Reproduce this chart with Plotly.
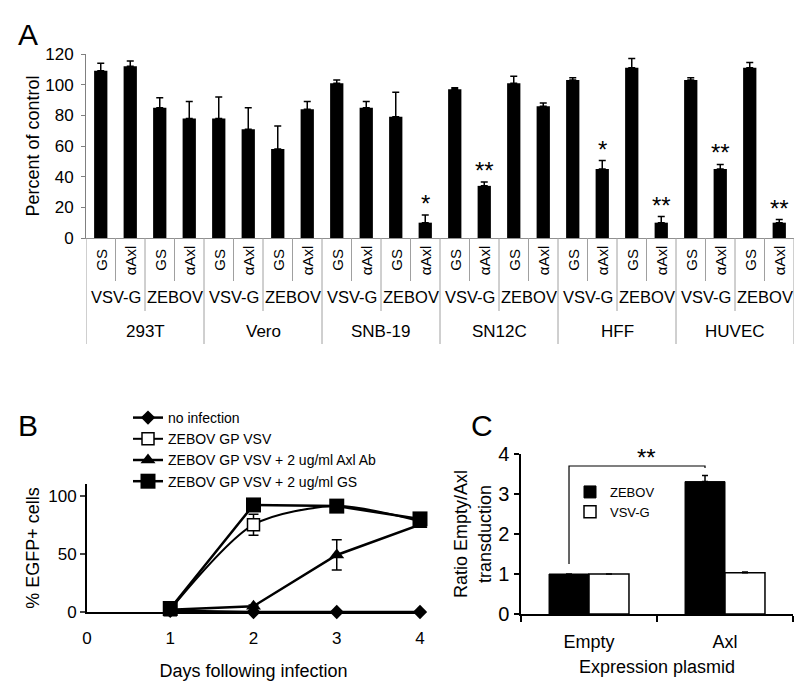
import plotly.graph_objects as go

FONT = "Liberation Sans, Arial, sans-serif"

# ---------------- Panel A data ----------------
cell_lines = ["293T", "Vero", "SNB-19", "SN12C", "HFF", "HUVEC"]
pseudotypes = ["VSV-G", "ZEBOV"]
treatments = ["GS", "αAxl"]
a_values = [109, 112, 85, 78,
            78, 71, 58, 84,
            101, 85, 79, 10,
            97, 34, 101, 86,
            103, 45, 111, 10,
            103, 45, 111, 10]
a_errors = [5, 3.5, 6.5, 11,
            14, 14, 15, 5,
            2, 4, 16, 5,
            1, 2.5, 4.5, 2,
            1.5, 5.5, 6, 4,
            1.5, 3, 3.5, 2]
a_signif = ["", "", "", "",
            "", "", "", "",
            "", "", "", "*",
            "", "**", "", "",
            "", "*", "", "**",
            "", "**", "", "**"]

# ---------------- Panel B data ----------------
days = [1, 2, 3, 4]
b_no_infection = [1, 0, 0, 0]
b_zebov = [2, 75, 91, 78]
b_zebov_err = [0, 9, 0, 0]
b_axl_ab = [2, 5, 49, 75]
b_axl_ab_err = [0, 1, 13, 2]
b_gs = [3, 92, 91, 80]
b_gs_err = [0, 1, 1, 1]
b_names = ["no infection", "ZEBOV GP VSV", "ZEBOV GP VSV + 2 ug/ml Axl Ab", "ZEBOV GP VSV + 2 ug/ml GS"]

# ---------------- Panel C data ----------------
plasmids = ["Empty", "Axl"]
c_zebov = [1.0, 3.31]
c_zebov_err = [0, 0.15]
c_vsvg = [1.0, 1.03]
c_vsvg_err = [0, 0.02]


def py(pix):
    return 1 - pix / 685.0


def px(pix):
    return pix / 800.0


fig = go.Figure()

# ---------------- Panel A ----------------
a_x = list(range(len(a_values)))
fig.add_trace(go.Bar(
    x=a_x, y=a_values, width=0.45, marker=dict(color="black", line=dict(width=0)),
    error_y=dict(type="data", array=a_errors, arrayminus=[0] * len(a_errors), symmetric=False,
                 color="black", thickness=1.5, width=3.5),
    xaxis="x", yaxis="y", showlegend=False, hoverinfo="skip"))

annotations = []
shapes = []

# significance stars
for i, s in enumerate(a_signif):
    if s:
        annotations.append(dict(x=i, y=a_values[i] + a_errors[i], xref="x", yref="y", text=s,
                                showarrow=False, yanchor="bottom", yshift=-4,
                                font=dict(size=24, family=FONT, color="black")))

# multi-level category labels
y_axis0 = py(238)
y_row1, y_row2, y_row3 = py(281), py(311), py(344)
n = len(a_values)
for b in range(n + 1):
    xb = b - 0.5
    if b % 4 == 0:
        y1 = y_row3
    elif b % 2 == 0:
        y1 = y_row2
    else:
        y1 = y_row1
    shapes.append(dict(type="line", xref="x", yref="paper", x0=xb, x1=xb, y0=y_axis0, y1=y1,
                       line=dict(color="#a0a0a0", width=1)))
for i in a_x:
    annotations.append(dict(x=i, y=py(260), xref="x", yref="paper", text=treatments[i % 2],
                            textangle=-90, showarrow=False,
                            font=dict(size=15, family=FONT, color="black")))
for k, cl in enumerate(cell_lines):
    for j, pt in enumerate(pseudotypes):
        annotations.append(dict(x=4 * k + 2 * j + 0.5, y=py(297), xref="x", yref="paper", text=pt,
                                showarrow=False, font=dict(size=16.5, family=FONT, color="black")))
    annotations.append(dict(x=4 * k + 1.5, y=py(332), xref="x", yref="paper", text=cl,
                            showarrow=False, font=dict(size=17, family=FONT, color="black")))

# ---------------- Panel B ----------------
fig.add_trace(go.Scatter(
    x=days, y=b_no_infection, name=b_names[0], mode="lines+markers",
    line=dict(color="black", width=2.5), marker=dict(symbol="diamond", size=11, color="black"),
    xaxis="x2", yaxis="y2", legend="legend", cliponaxis=False))
fig.add_trace(go.Scatter(
    x=days, y=b_zebov, name=b_names[1], mode="lines+markers",
    line=dict(color="black", width=2, shape="spline", smoothing=0.8),
    marker=dict(symbol="square", size=12, color="white", line=dict(color="black", width=1.5)),
    error_y=dict(type="data", array=b_zebov_err, color="black", thickness=1.5, width=5),
    xaxis="x2", yaxis="y2", legend="legend", cliponaxis=False))
fig.add_trace(go.Scatter(
    x=days, y=b_axl_ab, name=b_names[2], mode="lines+markers",
    line=dict(color="black", width=2.5), marker=dict(symbol="triangle-up", size=13, color="black"),
    error_y=dict(type="data", array=b_axl_ab_err, color="black", thickness=1.5, width=5),
    xaxis="x2", yaxis="y2", legend="legend", cliponaxis=False))
fig.add_trace(go.Scatter(
    x=days, y=b_gs, name=b_names[3], mode="lines+markers",
    line=dict(color="black", width=2.5), marker=dict(symbol="square", size=15, color="black"),
    error_y=dict(type="data", array=b_gs_err, color="black", thickness=1.5, width=5),
    xaxis="x2", yaxis="y2", legend="legend", cliponaxis=False))

# ---------------- Panel C ----------------
fig.add_trace(go.Bar(
    x=plasmids, y=c_zebov, name="ZEBOV", width=0.294, offset=-0.294,
    marker=dict(color="black", line=dict(color="black", width=1)),
    error_y=dict(type="data", array=c_zebov_err, arrayminus=[0, 0], symmetric=False,
                 color="black", thickness=1.5, width=3),
    xaxis="x3", yaxis="y3", legend="legend2"))
fig.add_trace(go.Bar(
    x=plasmids, y=c_vsvg, name="VSV-G", width=0.294, offset=0,
    marker=dict(color="white", line=dict(color="black", width=1.5)),
    error_y=dict(type="data", array=c_vsvg_err, arrayminus=[0, 0], symmetric=False,
                 color="black", thickness=1.5, width=3),
    xaxis="x3", yaxis="y3", legend="legend2"))

# significance bracket (Empty ZEBOV vs Axl ZEBOV)
left_c = 0 - 0.147
right_c = 1 - 0.147
shapes.append(dict(type="path", xref="x3", yref="y3",
                   path=f"M {left_c},1.25 L {left_c},3.7 L {right_c},3.7 L {right_c},3.65",
                   line=dict(color="black", width=1.2)))
annotations.append(dict(x=0.42, y=3.7, xref="x3", yref="y3", text="**", showarrow=False,
                        yanchor="bottom", yshift=-7, font=dict(size=24, family=FONT, color="black")))

# panel letters
for letter, lx, ly in [("A", 16, 16), ("B", 16, 425), ("C", 482, 425)]:
    annotations.append(dict(x=px(lx), y=py(ly), xref="paper", yref="paper", text=letter,
                            showarrow=False, font=dict(size=30, family=FONT, color="black")))

axis_font = dict(size=17, family=FONT, color="black")

fig.update_layout(
    width=800, height=685, autosize=False,
    margin=dict(l=0, r=0, t=0, b=0, autoexpand=False),
    paper_bgcolor="white", plot_bgcolor="white",
    font=dict(family=FONT, size=16, color="black"),
    barmode="overlay",
    shapes=shapes, annotations=annotations,
    # Panel A axes
    xaxis=dict(domain=[px(86), px(794)], range=[-0.5, 23.5], anchor="y", automargin=False,
               showline=True, linecolor="#909090", linewidth=1, ticks="",
               showticklabels=False, showgrid=False, zeroline=False, fixedrange=True),
    yaxis=dict(domain=[py(238), py(54)], range=[0, 120], dtick=20, anchor="x", automargin=False,
               showline=True, linecolor="#808080", linewidth=1, ticks="outside", ticklen=4,
               tickcolor="#808080", tickfont=axis_font, showgrid=False, zeroline=False,
               ticklabelstandoff=4,
               title=dict(text="Percent of control", font=dict(size=18, family=FONT), standoff=0)),
    # Panel B axes
    xaxis2=dict(domain=[px(87), px(420)], range=[0, 4], dtick=1, anchor="y2", automargin=False,
                showline=True, linecolor="black", linewidth=2, ticks="",
                ticklabelstandoff=10, tickfont=axis_font, showgrid=False, zeroline=False,
                title=dict(text="Days following infection", font=dict(size=18, family=FONT), standoff=17)),
    yaxis2=dict(domain=[py(612), py(484)], range=[0, 110], tickvals=[0, 50, 100], anchor="x2",
                automargin=False,
                showline=True, linecolor="black", linewidth=2, ticks="outside", ticklen=5, tickwidth=2,
                tickfont=axis_font, showgrid=False, zeroline=False,
                title=dict(text="% EGFP+ cells", font=dict(size=18, family=FONT), standoff=4)),
    # Panel C axes
    xaxis3=dict(domain=[px(521), px(793)], type="category", anchor="y3", automargin=False,
                showline=True, linecolor="black", linewidth=1.5, ticks="outside", ticklen=6,
                tickson="boundaries", tickcolor="black", tickwidth=1.5, ticklabelstandoff=11,
                tickfont=dict(size=18, family=FONT), showgrid=False, zeroline=False,
                title=dict(text="Expression plasmid", font=dict(size=18, family=FONT), standoff=9)),
    yaxis3=dict(domain=[py(614), py(454)], range=[0, 4], dtick=1, anchor="x3", automargin=False,
                showline=True, linecolor="black", linewidth=1.5, ticks="outside", ticklen=5,
                tickwidth=1.5, tickcolor="black", ticklabelstandoff=1,
                tickfont=dict(size=20, family=FONT), showgrid=False, zeroline=False,
                title=dict(text="Ratio Empty/Axl<br>transduction", font=dict(size=18, family=FONT), standoff=2)),
    legend=dict(x=px(128), y=py(402), xanchor="left", yanchor="top",
                font=dict(size=14, family=FONT, color="black"), bgcolor="rgba(0,0,0,0)",
                tracegroupgap=0, itemwidth=30),
    legend2=dict(x=px(570), y=py(477), xanchor="left", yanchor="top",
                 font=dict(size=13, family=FONT, color="black"), bgcolor="rgba(0,0,0,0)",
                 tracegroupgap=0, itemwidth=30),
)

fig.write_html("out.html", config={"displayModeBar": False},
               post_script="document.body.style.margin='0';document.body.style.overflow='hidden';")
